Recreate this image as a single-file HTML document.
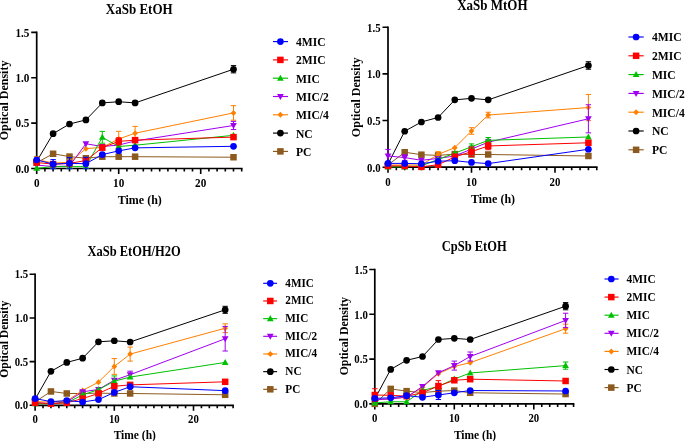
<!DOCTYPE html>
<html><head><meta charset="utf-8"><style>
html,body{margin:0;padding:0;background:#fff;}
svg{display:block;filter:blur(0.35px);}
</style></head><body>
<svg width="685" height="441" viewBox="0 0 685 441">
<rect width="685" height="441" fill="#fff"/>
<text transform="translate(139.20,13.50) scale(1,1.1)" font-family="Liberation Serif" font-weight="bold" font-size="13" text-anchor="middle">XaSb EtOH</text>
<path d="M36.70 32.41V168.50H241.70" stroke="#000" stroke-width="1.7" fill="none" stroke-linecap="square"/>
<path d="M31.20 168.50H36.70M31.20 123.13H36.70M31.20 77.77H36.70M31.20 32.41H36.70M44.90 168.50V171.50M53.10 168.50V171.50M61.30 168.50V171.50M69.50 168.50V171.50M77.70 168.50V171.50M85.90 168.50V171.50M94.10 168.50V171.50M102.30 168.50V171.50M110.50 168.50V171.50M118.70 168.50V174.00M126.90 168.50V171.50M135.10 168.50V171.50M143.30 168.50V171.50M151.50 168.50V171.50M159.70 168.50V171.50M167.90 168.50V171.50M176.10 168.50V171.50M184.30 168.50V171.50M192.50 168.50V171.50M200.70 168.50V174.00M208.90 168.50V171.50M217.10 168.50V171.50M225.30 168.50V171.50M233.50 168.50V171.50M241.70 168.50V171.50M36.70 168.50V174.00" stroke="#000" stroke-width="1.6" fill="none"/>
<text transform="translate(29.40,172.71) scale(1,1.1)" font-family="Liberation Serif" font-weight="bold" font-size="11.2" text-anchor="end">0.0</text>
<text transform="translate(29.40,127.34) scale(1,1.1)" font-family="Liberation Serif" font-weight="bold" font-size="11.2" text-anchor="end">0.5</text>
<text transform="translate(29.40,81.98) scale(1,1.1)" font-family="Liberation Serif" font-weight="bold" font-size="11.2" text-anchor="end">1.0</text>
<text transform="translate(29.40,36.61) scale(1,1.1)" font-family="Liberation Serif" font-weight="bold" font-size="11.2" text-anchor="end">1.5</text>
<text transform="translate(36.70,187.20) scale(1,1.1)" font-family="Liberation Serif" font-weight="bold" font-size="11.2" text-anchor="middle">0</text>
<text transform="translate(118.70,187.20) scale(1,1.1)" font-family="Liberation Serif" font-weight="bold" font-size="11.2" text-anchor="middle">10</text>
<text transform="translate(200.70,187.20) scale(1,1.1)" font-family="Liberation Serif" font-weight="bold" font-size="11.2" text-anchor="middle">20</text>
<polyline points="36.70,162.60 53.10,153.78 69.50,156.60 85.90,158.23 102.30,156.69 118.70,156.69 135.10,156.69 233.50,157.23" fill="none" stroke="#8c5a1e" stroke-width="1"/>
<rect x="33.45" y="159.35" width="6.50" height="6.50" fill="#8c5a1e"/>
<rect x="49.85" y="150.53" width="6.50" height="6.50" fill="#8c5a1e"/>
<rect x="66.25" y="153.35" width="6.50" height="6.50" fill="#8c5a1e"/>
<rect x="82.65" y="154.99" width="6.50" height="6.50" fill="#8c5a1e"/>
<rect x="99.05" y="153.44" width="6.50" height="6.50" fill="#8c5a1e"/>
<rect x="115.45" y="153.44" width="6.50" height="6.50" fill="#8c5a1e"/>
<rect x="131.85" y="153.44" width="6.50" height="6.50" fill="#8c5a1e"/>
<rect x="230.25" y="153.98" width="6.50" height="6.50" fill="#8c5a1e"/>
<polyline points="36.70,161.42 53.10,133.66 69.50,124.02 85.90,119.92 102.30,102.91 118.70,101.72 135.10,102.91 233.50,69.24" fill="none" stroke="#000000" stroke-width="1"/>
<path d="M233.50 65.60V72.88M230.80 65.60H236.20M230.80 72.88H236.20" stroke="#000000" stroke-width="1.0" fill="none"/>
<circle cx="36.70" cy="161.42" r="3.35" fill="#000000"/>
<circle cx="53.10" cy="133.66" r="3.35" fill="#000000"/>
<circle cx="69.50" cy="124.02" r="3.35" fill="#000000"/>
<circle cx="85.90" cy="119.92" r="3.35" fill="#000000"/>
<circle cx="102.30" cy="102.91" r="3.35" fill="#000000"/>
<circle cx="118.70" cy="101.72" r="3.35" fill="#000000"/>
<circle cx="135.10" cy="102.91" r="3.35" fill="#000000"/>
<circle cx="233.50" cy="69.24" r="3.35" fill="#000000"/>
<polyline points="36.70,159.60 53.10,163.06 69.50,162.33 85.90,148.68 102.30,147.31 118.70,139.03 135.10,133.21 233.50,112.92" fill="none" stroke="#ff8000" stroke-width="1"/>
<path d="M36.70 156.41V162.78M34.00 156.41H39.40M34.00 162.78H39.40" stroke="#ff8000" stroke-width="1.0" fill="none"/>
<path d="M118.70 131.30V146.77M116.00 131.30H121.40M116.00 146.77H121.40" stroke="#ff8000" stroke-width="1.0" fill="none"/>
<path d="M135.10 126.38V140.03M132.40 126.38H137.80M132.40 140.03H137.80" stroke="#ff8000" stroke-width="1.0" fill="none"/>
<path d="M233.50 105.64V120.20M230.80 105.64H236.20M230.80 120.20H236.20" stroke="#ff8000" stroke-width="1.0" fill="none"/>
<path d="M36.70 156.59L39.55 159.60L36.70 162.61L33.85 159.60Z" fill="#ff8000"/>
<path d="M53.10 160.04L55.95 163.06L53.10 166.07L50.25 163.06Z" fill="#ff8000"/>
<path d="M69.50 159.31L72.35 162.33L69.50 165.34L66.65 162.33Z" fill="#ff8000"/>
<path d="M85.90 145.66L88.75 148.68L85.90 151.69L83.05 148.68Z" fill="#ff8000"/>
<path d="M102.30 144.30L105.15 147.31L102.30 150.33L99.45 147.31Z" fill="#ff8000"/>
<path d="M118.70 136.02L121.55 139.03L118.70 142.05L115.85 139.03Z" fill="#ff8000"/>
<path d="M135.10 130.19L137.95 133.21L135.10 136.22L132.25 133.21Z" fill="#ff8000"/>
<path d="M233.50 109.90L236.35 112.92L233.50 115.93L230.65 112.92Z" fill="#ff8000"/>
<polyline points="36.70,165.06 53.10,166.61 69.50,165.97 85.90,143.77 102.30,146.50 118.70,145.04 135.10,140.94 233.50,125.47" fill="none" stroke="#a000f0" stroke-width="1"/>
<path d="M233.50 121.38V129.57M230.80 121.38H236.20M230.80 129.57H236.20" stroke="#a000f0" stroke-width="1.0" fill="none"/>
<path d="M36.70 168.58L40.05 162.55L33.35 162.55Z" fill="#a000f0"/>
<path d="M53.10 170.12L56.45 164.09L49.75 164.09Z" fill="#a000f0"/>
<path d="M69.50 169.49L72.85 163.46L66.15 163.46Z" fill="#a000f0"/>
<path d="M85.90 147.28L89.25 141.25L82.55 141.25Z" fill="#a000f0"/>
<path d="M102.30 150.01L105.65 143.98L98.95 143.98Z" fill="#a000f0"/>
<path d="M118.70 148.56L122.05 142.53L115.35 142.53Z" fill="#a000f0"/>
<path d="M135.10 144.46L138.45 138.43L131.75 138.43Z" fill="#a000f0"/>
<path d="M233.50 128.99L236.85 122.96L230.15 122.96Z" fill="#a000f0"/>
<polyline points="36.70,168.34 53.10,166.61 69.50,166.61 85.90,166.61 102.30,137.31 118.70,146.50 135.10,145.22 233.50,135.30" fill="none" stroke="#00c000" stroke-width="1"/>
<path d="M102.30 131.39V143.22M99.60 131.39H105.00M99.60 143.22H105.00" stroke="#00c000" stroke-width="1.0" fill="none"/>
<path d="M36.70 164.82L40.05 170.85L33.35 170.85Z" fill="#00c000"/>
<path d="M53.10 163.09L56.45 169.12L49.75 169.12Z" fill="#00c000"/>
<path d="M69.50 163.09L72.85 169.12L66.15 169.12Z" fill="#00c000"/>
<path d="M85.90 163.09L89.25 169.12L82.55 169.12Z" fill="#00c000"/>
<path d="M102.30 133.79L105.65 139.82L98.95 139.82Z" fill="#00c000"/>
<path d="M118.70 142.98L122.05 149.01L115.35 149.01Z" fill="#00c000"/>
<path d="M135.10 141.70L138.45 147.73L131.75 147.73Z" fill="#00c000"/>
<path d="M233.50 131.79L236.85 137.82L230.15 137.82Z" fill="#00c000"/>
<polyline points="36.70,162.51 53.10,164.15 69.50,163.42 85.90,160.51 102.30,147.68 118.70,141.40 135.10,140.13 233.50,137.12" fill="none" stroke="#ff0000" stroke-width="1"/>
<path d="M118.70 137.76V145.04M116.00 137.76H121.40M116.00 145.04H121.40" stroke="#ff0000" stroke-width="1.0" fill="none"/>
<rect x="33.45" y="159.26" width="6.50" height="6.50" fill="#ff0000"/>
<rect x="49.85" y="160.90" width="6.50" height="6.50" fill="#ff0000"/>
<rect x="66.25" y="160.17" width="6.50" height="6.50" fill="#ff0000"/>
<rect x="82.65" y="157.26" width="6.50" height="6.50" fill="#ff0000"/>
<rect x="99.05" y="144.43" width="6.50" height="6.50" fill="#ff0000"/>
<rect x="115.45" y="138.15" width="6.50" height="6.50" fill="#ff0000"/>
<rect x="131.85" y="136.88" width="6.50" height="6.50" fill="#ff0000"/>
<rect x="230.25" y="133.87" width="6.50" height="6.50" fill="#ff0000"/>
<polyline points="36.70,159.87 53.10,164.15 69.50,163.33 85.90,163.69 102.30,154.59 118.70,150.86 135.10,147.86 233.50,146.31" fill="none" stroke="#0000ff" stroke-width="1"/>
<path d="M53.10 159.60V168.70M50.40 159.60H55.80M50.40 168.70H55.80" stroke="#0000ff" stroke-width="1.0" fill="none"/>
<path d="M69.50 157.60V168.70M66.80 157.60H72.20M66.80 168.70H72.20" stroke="#0000ff" stroke-width="1.0" fill="none"/>
<path d="M85.90 157.32V168.70M83.20 157.32H88.60M83.20 168.70H88.60" stroke="#0000ff" stroke-width="1.0" fill="none"/>
<circle cx="36.70" cy="159.87" r="3.35" fill="#0000ff"/>
<circle cx="53.10" cy="164.15" r="3.35" fill="#0000ff"/>
<circle cx="69.50" cy="163.33" r="3.35" fill="#0000ff"/>
<circle cx="85.90" cy="163.69" r="3.35" fill="#0000ff"/>
<circle cx="102.30" cy="154.59" r="3.35" fill="#0000ff"/>
<circle cx="118.70" cy="150.86" r="3.35" fill="#0000ff"/>
<circle cx="135.10" cy="147.86" r="3.35" fill="#0000ff"/>
<circle cx="233.50" cy="146.31" r="3.35" fill="#0000ff"/>
<text transform="translate(139.75,203.80) scale(1,1.06)" font-family="Liberation Serif" font-weight="bold" font-size="12" text-anchor="middle">Time (h)</text>
<text transform="translate(8.30,100.40) rotate(-90)" x="0" y="0" font-family="Liberation Serif" font-weight="bold" font-size="12" text-anchor="middle">Optical Density</text>
<path d="M273.00 41.60H288.00" stroke="#0000ff" stroke-width="1.15"/>
<circle cx="280.40" cy="41.60" r="3.35" fill="#0000ff"/>
<text transform="translate(296.00,46.04) scale(1,1.06)" font-family="Liberation Serif" font-weight="bold" font-size="11.6">4MIC</text>
<path d="M273.00 59.90H288.00" stroke="#ff0000" stroke-width="1.15"/>
<rect x="277.15" y="56.65" width="6.50" height="6.50" fill="#ff0000"/>
<text transform="translate(296.00,64.34) scale(1,1.06)" font-family="Liberation Serif" font-weight="bold" font-size="11.6">2MIC</text>
<path d="M273.00 78.20H288.00" stroke="#00c000" stroke-width="1.15"/>
<path d="M280.40 74.68L283.75 80.71L277.05 80.71Z" fill="#00c000"/>
<text transform="translate(296.00,82.64) scale(1,1.06)" font-family="Liberation Serif" font-weight="bold" font-size="11.6">MIC</text>
<path d="M273.00 96.50H288.00" stroke="#a000f0" stroke-width="1.15"/>
<path d="M280.40 100.02L283.75 93.99L277.05 93.99Z" fill="#a000f0"/>
<text transform="translate(296.00,100.94) scale(1,1.06)" font-family="Liberation Serif" font-weight="bold" font-size="11.6">MIC/2</text>
<path d="M273.00 114.80H288.00" stroke="#ff8000" stroke-width="1.15"/>
<path d="M280.40 111.79L283.25 114.80L280.40 117.82L277.55 114.80Z" fill="#ff8000"/>
<text transform="translate(296.00,119.24) scale(1,1.06)" font-family="Liberation Serif" font-weight="bold" font-size="11.6">MIC/4</text>
<path d="M273.00 133.10H288.00" stroke="#000000" stroke-width="1.15"/>
<circle cx="280.40" cy="133.10" r="3.35" fill="#000000"/>
<text transform="translate(296.00,137.54) scale(1,1.06)" font-family="Liberation Serif" font-weight="bold" font-size="11.6">NC</text>
<path d="M273.00 151.40H288.00" stroke="#8c5a1e" stroke-width="1.15"/>
<rect x="277.15" y="148.15" width="6.50" height="6.50" fill="#8c5a1e"/>
<text transform="translate(296.00,155.84) scale(1,1.06)" font-family="Liberation Serif" font-weight="bold" font-size="11.6">PC</text>
<text transform="translate(492.38,9.50) scale(1,1.1)" font-family="Liberation Serif" font-weight="bold" font-size="13" text-anchor="middle">XaSb MtOH</text>
<path d="M388.00 27.25V167.20H596.75" stroke="#000" stroke-width="1.7" fill="none" stroke-linecap="square"/>
<path d="M382.50 167.20H388.00M382.50 120.55H388.00M382.50 73.90H388.00M382.50 27.25H388.00M396.35 167.20V170.20M404.70 167.20V170.20M413.05 167.20V170.20M421.40 167.20V170.20M429.75 167.20V170.20M438.10 167.20V170.20M446.45 167.20V170.20M454.80 167.20V170.20M463.15 167.20V170.20M471.50 167.20V172.70M479.85 167.20V170.20M488.20 167.20V170.20M496.55 167.20V170.20M504.90 167.20V170.20M513.25 167.20V170.20M521.60 167.20V170.20M529.95 167.20V170.20M538.30 167.20V170.20M546.65 167.20V170.20M555.00 167.20V172.70M563.35 167.20V170.20M571.70 167.20V170.20M580.05 167.20V170.20M588.40 167.20V170.20M596.75 167.20V170.20M388.00 167.20V172.70" stroke="#000" stroke-width="1.6" fill="none"/>
<text transform="translate(380.60,171.57) scale(1,1.1)" font-family="Liberation Serif" font-weight="bold" font-size="10.8" text-anchor="end">0.0</text>
<text transform="translate(380.60,124.92) scale(1,1.1)" font-family="Liberation Serif" font-weight="bold" font-size="10.8" text-anchor="end">0.5</text>
<text transform="translate(380.60,78.27) scale(1,1.1)" font-family="Liberation Serif" font-weight="bold" font-size="10.8" text-anchor="end">1.0</text>
<text transform="translate(380.60,31.62) scale(1,1.1)" font-family="Liberation Serif" font-weight="bold" font-size="10.8" text-anchor="end">1.5</text>
<text transform="translate(388.00,185.80) scale(1,1.1)" font-family="Liberation Serif" font-weight="bold" font-size="10.8" text-anchor="middle">0</text>
<text transform="translate(471.50,185.80) scale(1,1.1)" font-family="Liberation Serif" font-weight="bold" font-size="10.8" text-anchor="middle">10</text>
<text transform="translate(555.00,185.80) scale(1,1.1)" font-family="Liberation Serif" font-weight="bold" font-size="10.8" text-anchor="middle">20</text>
<polyline points="388.00,164.99 404.70,152.25 421.40,154.68 438.10,155.43 454.80,154.12 471.50,154.49 488.20,154.49 588.40,155.99" fill="none" stroke="#8c5a1e" stroke-width="1"/>
<rect x="384.75" y="161.74" width="6.50" height="6.50" fill="#8c5a1e"/>
<rect x="401.45" y="149.00" width="6.50" height="6.50" fill="#8c5a1e"/>
<rect x="418.15" y="151.43" width="6.50" height="6.50" fill="#8c5a1e"/>
<rect x="434.85" y="152.18" width="6.50" height="6.50" fill="#8c5a1e"/>
<rect x="451.55" y="150.87" width="6.50" height="6.50" fill="#8c5a1e"/>
<rect x="468.25" y="151.25" width="6.50" height="6.50" fill="#8c5a1e"/>
<rect x="484.95" y="151.25" width="6.50" height="6.50" fill="#8c5a1e"/>
<rect x="585.15" y="152.74" width="6.50" height="6.50" fill="#8c5a1e"/>
<polyline points="388.00,164.05 404.70,131.26 421.40,121.98 438.10,117.48 454.80,99.87 471.50,98.37 488.20,99.87 588.40,65.48" fill="none" stroke="#000000" stroke-width="1"/>
<path d="M588.40 61.73V69.23M585.70 61.73H591.10M585.70 69.23H591.10" stroke="#000000" stroke-width="1.0" fill="none"/>
<circle cx="388.00" cy="164.05" r="3.35" fill="#000000"/>
<circle cx="404.70" cy="131.26" r="3.35" fill="#000000"/>
<circle cx="421.40" cy="121.98" r="3.35" fill="#000000"/>
<circle cx="438.10" cy="117.48" r="3.35" fill="#000000"/>
<circle cx="454.80" cy="99.87" r="3.35" fill="#000000"/>
<circle cx="471.50" cy="98.37" r="3.35" fill="#000000"/>
<circle cx="488.20" cy="99.87" r="3.35" fill="#000000"/>
<circle cx="588.40" cy="65.48" r="3.35" fill="#000000"/>
<polyline points="388.00,164.99 404.70,164.99 421.40,164.99 438.10,154.49 454.80,147.65 471.50,130.98 488.20,115.05 588.40,107.55" fill="none" stroke="#ff8000" stroke-width="1"/>
<path d="M438.10 151.68V157.31M435.40 151.68H440.80M435.40 157.31H440.80" stroke="#ff8000" stroke-width="1.0" fill="none"/>
<path d="M471.50 127.70V134.26M468.80 127.70H474.20M468.80 134.26H474.20" stroke="#ff8000" stroke-width="1.0" fill="none"/>
<path d="M488.20 112.24V117.86M485.50 112.24H490.90M485.50 117.86H490.90" stroke="#ff8000" stroke-width="1.0" fill="none"/>
<path d="M588.40 94.43V120.67M585.70 94.43H591.10M585.70 120.67H591.10" stroke="#ff8000" stroke-width="1.0" fill="none"/>
<path d="M388.00 161.97L390.85 164.99L388.00 168.00L385.15 164.99Z" fill="#ff8000"/>
<path d="M404.70 161.97L407.55 164.99L404.70 168.00L401.85 164.99Z" fill="#ff8000"/>
<path d="M421.40 161.97L424.25 164.99L421.40 168.00L418.55 164.99Z" fill="#ff8000"/>
<path d="M438.10 151.48L440.95 154.49L438.10 157.51L435.25 154.49Z" fill="#ff8000"/>
<path d="M454.80 144.64L457.65 147.65L454.80 150.67L451.95 147.65Z" fill="#ff8000"/>
<path d="M471.50 127.96L474.35 130.98L471.50 133.99L468.65 130.98Z" fill="#ff8000"/>
<path d="M488.20 112.03L491.05 115.05L488.20 118.06L485.35 115.05Z" fill="#ff8000"/>
<path d="M588.40 104.54L591.25 107.55L588.40 110.57L585.55 107.55Z" fill="#ff8000"/>
<polyline points="388.00,155.99 404.70,157.59 421.40,160.30 438.10,158.43 454.80,155.99 471.50,149.06 488.20,142.22 588.40,118.79" fill="none" stroke="#a000f0" stroke-width="1"/>
<path d="M388.00 149.43V162.55M385.30 149.43H390.70M385.30 162.55H390.70" stroke="#a000f0" stroke-width="1.0" fill="none"/>
<path d="M404.70 154.78V160.40M402.00 154.78H407.40M402.00 160.40H407.40" stroke="#a000f0" stroke-width="1.0" fill="none"/>
<path d="M471.50 146.25V151.87M468.80 146.25H474.20M468.80 151.87H474.20" stroke="#a000f0" stroke-width="1.0" fill="none"/>
<path d="M488.20 139.41V145.03M485.50 139.41H490.90M485.50 145.03H490.90" stroke="#a000f0" stroke-width="1.0" fill="none"/>
<path d="M588.40 104.74V132.85M585.70 104.74H591.10M585.70 132.85H591.10" stroke="#a000f0" stroke-width="1.0" fill="none"/>
<path d="M388.00 159.51L391.35 153.48L384.65 153.48Z" fill="#a000f0"/>
<path d="M404.70 161.10L408.05 155.07L401.35 155.07Z" fill="#a000f0"/>
<path d="M421.40 163.82L424.75 157.79L418.05 157.79Z" fill="#a000f0"/>
<path d="M438.10 161.95L441.45 155.92L434.75 155.92Z" fill="#a000f0"/>
<path d="M454.80 159.51L458.15 153.48L451.45 153.48Z" fill="#a000f0"/>
<path d="M471.50 152.58L474.85 146.55L468.15 146.55Z" fill="#a000f0"/>
<path d="M488.20 145.74L491.55 139.71L484.85 139.71Z" fill="#a000f0"/>
<path d="M588.40 122.31L591.75 116.28L585.05 116.28Z" fill="#a000f0"/>
<polyline points="388.00,166.86 404.70,166.86 421.40,165.93 438.10,159.37 454.80,153.18 471.50,146.72 488.20,140.35 588.40,136.97" fill="none" stroke="#00c000" stroke-width="1"/>
<path d="M471.50 143.91V149.53M468.80 143.91H474.20M468.80 149.53H474.20" stroke="#00c000" stroke-width="1.0" fill="none"/>
<path d="M488.20 137.53V143.16M485.50 137.53H490.90M485.50 143.16H490.90" stroke="#00c000" stroke-width="1.0" fill="none"/>
<path d="M388.00 163.35L391.35 169.38L384.65 169.38Z" fill="#00c000"/>
<path d="M404.70 163.35L408.05 169.38L401.35 169.38Z" fill="#00c000"/>
<path d="M421.40 162.41L424.75 168.44L418.05 168.44Z" fill="#00c000"/>
<path d="M438.10 155.85L441.45 161.88L434.75 161.88Z" fill="#00c000"/>
<path d="M454.80 149.67L458.15 155.70L451.45 155.70Z" fill="#00c000"/>
<path d="M471.50 143.20L474.85 149.23L468.15 149.23Z" fill="#00c000"/>
<path d="M488.20 136.83L491.55 142.86L484.85 142.86Z" fill="#00c000"/>
<path d="M588.40 133.46L591.75 139.49L585.05 139.49Z" fill="#00c000"/>
<polyline points="388.00,165.93 404.70,165.93 421.40,166.86 438.10,164.71 454.80,156.93 471.50,151.68 488.20,145.97 588.40,142.78" fill="none" stroke="#ff0000" stroke-width="1"/>
<path d="M454.80 154.12V159.74M452.10 154.12H457.50M452.10 159.74H457.50" stroke="#ff0000" stroke-width="1.0" fill="none"/>
<path d="M471.50 147.00V156.37M468.80 147.00H474.20M468.80 156.37H474.20" stroke="#ff0000" stroke-width="1.0" fill="none"/>
<path d="M488.20 142.22V149.72M485.50 142.22H490.90M485.50 149.72H490.90" stroke="#ff0000" stroke-width="1.0" fill="none"/>
<rect x="384.75" y="162.68" width="6.50" height="6.50" fill="#ff0000"/>
<rect x="401.45" y="162.68" width="6.50" height="6.50" fill="#ff0000"/>
<rect x="418.15" y="163.61" width="6.50" height="6.50" fill="#ff0000"/>
<rect x="434.85" y="161.46" width="6.50" height="6.50" fill="#ff0000"/>
<rect x="451.55" y="153.68" width="6.50" height="6.50" fill="#ff0000"/>
<rect x="468.25" y="148.43" width="6.50" height="6.50" fill="#ff0000"/>
<rect x="484.95" y="142.72" width="6.50" height="6.50" fill="#ff0000"/>
<rect x="585.15" y="139.53" width="6.50" height="6.50" fill="#ff0000"/>
<polyline points="388.00,163.40 404.70,163.40 421.40,163.77 438.10,161.24 454.80,160.68 471.50,162.46 488.20,163.58 588.40,149.25" fill="none" stroke="#0000ff" stroke-width="1"/>
<circle cx="388.00" cy="163.40" r="3.35" fill="#0000ff"/>
<circle cx="404.70" cy="163.40" r="3.35" fill="#0000ff"/>
<circle cx="421.40" cy="163.77" r="3.35" fill="#0000ff"/>
<circle cx="438.10" cy="161.24" r="3.35" fill="#0000ff"/>
<circle cx="454.80" cy="160.68" r="3.35" fill="#0000ff"/>
<circle cx="471.50" cy="162.46" r="3.35" fill="#0000ff"/>
<circle cx="488.20" cy="163.58" r="3.35" fill="#0000ff"/>
<circle cx="588.40" cy="149.25" r="3.35" fill="#0000ff"/>
<text transform="translate(493.00,202.70) scale(1,1.06)" font-family="Liberation Serif" font-weight="bold" font-size="12" text-anchor="middle">Time (h)</text>
<text transform="translate(360.30,97.30) rotate(-90)" x="0" y="0" font-family="Liberation Serif" font-weight="bold" font-size="12" text-anchor="middle">Optical Density</text>
<path d="M628.40 37.00H643.70" stroke="#0000ff" stroke-width="1.15"/>
<circle cx="636.10" cy="37.00" r="3.35" fill="#0000ff"/>
<text transform="translate(651.90,41.44) scale(1,1.06)" font-family="Liberation Serif" font-weight="bold" font-size="11.6">4MIC</text>
<path d="M628.40 55.80H643.70" stroke="#ff0000" stroke-width="1.15"/>
<rect x="632.85" y="52.55" width="6.50" height="6.50" fill="#ff0000"/>
<text transform="translate(651.90,60.24) scale(1,1.06)" font-family="Liberation Serif" font-weight="bold" font-size="11.6">2MIC</text>
<path d="M628.40 74.60H643.70" stroke="#00c000" stroke-width="1.15"/>
<path d="M636.10 71.08L639.45 77.11L632.75 77.11Z" fill="#00c000"/>
<text transform="translate(651.90,79.04) scale(1,1.06)" font-family="Liberation Serif" font-weight="bold" font-size="11.6">MIC</text>
<path d="M628.40 93.40H643.70" stroke="#a000f0" stroke-width="1.15"/>
<path d="M636.10 96.92L639.45 90.89L632.75 90.89Z" fill="#a000f0"/>
<text transform="translate(651.90,97.84) scale(1,1.06)" font-family="Liberation Serif" font-weight="bold" font-size="11.6">MIC/2</text>
<path d="M628.40 112.20H643.70" stroke="#ff8000" stroke-width="1.15"/>
<path d="M636.10 109.19L638.95 112.20L636.10 115.22L633.25 112.20Z" fill="#ff8000"/>
<text transform="translate(651.90,116.64) scale(1,1.06)" font-family="Liberation Serif" font-weight="bold" font-size="11.6">MIC/4</text>
<path d="M628.40 131.00H643.70" stroke="#000000" stroke-width="1.15"/>
<circle cx="636.10" cy="131.00" r="3.35" fill="#000000"/>
<text transform="translate(651.90,135.44) scale(1,1.06)" font-family="Liberation Serif" font-weight="bold" font-size="11.6">NC</text>
<path d="M628.40 149.80H643.70" stroke="#8c5a1e" stroke-width="1.15"/>
<rect x="632.85" y="146.55" width="6.50" height="6.50" fill="#8c5a1e"/>
<text transform="translate(651.90,154.24) scale(1,1.06)" font-family="Liberation Serif" font-weight="bold" font-size="11.6">PC</text>
<text transform="translate(134.10,256.20) scale(1,1.1)" font-family="Liberation Serif" font-weight="bold" font-size="12.5" text-anchor="middle">XaSb EtOH/H2O</text>
<path d="M35.10 274.31V405.30H233.10" stroke="#000" stroke-width="1.7" fill="none" stroke-linecap="square"/>
<path d="M29.60 405.30H35.10M29.60 361.63H35.10M29.60 317.97H35.10M29.60 274.31H35.10M43.02 405.30V408.30M50.94 405.30V408.30M58.86 405.30V408.30M66.78 405.30V408.30M74.70 405.30V408.30M82.62 405.30V408.30M90.54 405.30V408.30M98.46 405.30V408.30M106.38 405.30V408.30M114.30 405.30V410.80M122.22 405.30V408.30M130.14 405.30V408.30M138.06 405.30V408.30M145.98 405.30V408.30M153.90 405.30V408.30M161.82 405.30V408.30M169.74 405.30V408.30M177.66 405.30V408.30M185.58 405.30V408.30M193.50 405.30V410.80M201.42 405.30V408.30M209.34 405.30V408.30M217.26 405.30V408.30M225.18 405.30V408.30M233.10 405.30V408.30M35.10 405.30V410.80" stroke="#000" stroke-width="1.6" fill="none"/>
<text transform="translate(28.20,409.47) scale(1,1.1)" font-family="Liberation Serif" font-weight="bold" font-size="10.8" text-anchor="end">0.0</text>
<text transform="translate(28.20,365.81) scale(1,1.1)" font-family="Liberation Serif" font-weight="bold" font-size="10.8" text-anchor="end">0.5</text>
<text transform="translate(28.20,322.14) scale(1,1.1)" font-family="Liberation Serif" font-weight="bold" font-size="10.8" text-anchor="end">1.0</text>
<text transform="translate(28.20,278.48) scale(1,1.1)" font-family="Liberation Serif" font-weight="bold" font-size="10.8" text-anchor="end">1.5</text>
<text transform="translate(35.10,423.00) scale(1,1.1)" font-family="Liberation Serif" font-weight="bold" font-size="10.8" text-anchor="middle">0</text>
<text transform="translate(114.30,423.00) scale(1,1.1)" font-family="Liberation Serif" font-weight="bold" font-size="10.8" text-anchor="middle">10</text>
<text transform="translate(193.50,423.00) scale(1,1.1)" font-family="Liberation Serif" font-weight="bold" font-size="10.8" text-anchor="middle">20</text>
<polyline points="35.10,401.89 50.94,391.46 66.78,393.47 82.62,393.56 98.46,393.12 114.30,393.47 130.14,393.47 225.18,394.79" fill="none" stroke="#8c5a1e" stroke-width="1"/>
<rect x="31.85" y="398.64" width="6.50" height="6.50" fill="#8c5a1e"/>
<rect x="47.69" y="388.21" width="6.50" height="6.50" fill="#8c5a1e"/>
<rect x="63.53" y="390.22" width="6.50" height="6.50" fill="#8c5a1e"/>
<rect x="79.37" y="390.31" width="6.50" height="6.50" fill="#8c5a1e"/>
<rect x="95.21" y="389.87" width="6.50" height="6.50" fill="#8c5a1e"/>
<rect x="111.05" y="390.22" width="6.50" height="6.50" fill="#8c5a1e"/>
<rect x="126.89" y="390.22" width="6.50" height="6.50" fill="#8c5a1e"/>
<rect x="221.93" y="391.54" width="6.50" height="6.50" fill="#8c5a1e"/>
<polyline points="35.10,399.26 50.94,371.37 66.78,362.43 82.62,358.22 98.46,341.82 114.30,340.77 130.14,341.99 225.18,309.81" fill="none" stroke="#000000" stroke-width="1"/>
<path d="M225.18 306.30V313.31M222.48 306.30H227.88M222.48 313.31H227.88" stroke="#000000" stroke-width="1.0" fill="none"/>
<circle cx="35.10" cy="399.26" r="3.35" fill="#000000"/>
<circle cx="50.94" cy="371.37" r="3.35" fill="#000000"/>
<circle cx="66.78" cy="362.43" r="3.35" fill="#000000"/>
<circle cx="82.62" cy="358.22" r="3.35" fill="#000000"/>
<circle cx="98.46" cy="341.82" r="3.35" fill="#000000"/>
<circle cx="114.30" cy="340.77" r="3.35" fill="#000000"/>
<circle cx="130.14" cy="341.99" r="3.35" fill="#000000"/>
<circle cx="225.18" cy="309.81" r="3.35" fill="#000000"/>
<polyline points="35.10,401.89 50.94,401.89 66.78,401.01 82.62,390.40 98.46,382.16 114.30,366.46 130.14,354.10 225.18,328.22" fill="none" stroke="#ff8000" stroke-width="1"/>
<path d="M114.30 358.57V374.35M111.60 358.57H117.00M111.60 374.35H117.00" stroke="#ff8000" stroke-width="1.0" fill="none"/>
<path d="M130.14 347.08V361.11M127.44 347.08H132.84M127.44 361.11H132.84" stroke="#ff8000" stroke-width="1.0" fill="none"/>
<path d="M225.18 323.84V332.61M222.48 323.84H227.88M222.48 332.61H227.88" stroke="#ff8000" stroke-width="1.0" fill="none"/>
<path d="M35.10 398.88L37.95 401.89L35.10 404.91L32.25 401.89Z" fill="#ff8000"/>
<path d="M50.94 398.88L53.79 401.89L50.94 404.91L48.09 401.89Z" fill="#ff8000"/>
<path d="M66.78 398.00L69.63 401.01L66.78 404.03L63.93 401.01Z" fill="#ff8000"/>
<path d="M82.62 387.39L85.47 390.40L82.62 393.42L79.77 390.40Z" fill="#ff8000"/>
<path d="M98.46 379.14L101.31 382.16L98.46 385.17L95.61 382.16Z" fill="#ff8000"/>
<path d="M114.30 363.45L117.15 366.46L114.30 369.48L111.45 366.46Z" fill="#ff8000"/>
<path d="M130.14 351.08L132.99 354.10L130.14 357.11L127.29 354.10Z" fill="#ff8000"/>
<path d="M225.18 325.21L228.03 328.22L225.18 331.24L222.33 328.22Z" fill="#ff8000"/>
<polyline points="35.10,402.77 50.94,403.65 66.78,401.89 82.62,391.81 98.46,389.44 114.30,380.23 130.14,374.70 225.18,338.75" fill="none" stroke="#a000f0" stroke-width="1"/>
<path d="M130.14 371.20V378.21M127.44 371.20H132.84M127.44 378.21H132.84" stroke="#a000f0" stroke-width="1.0" fill="none"/>
<path d="M225.18 326.47V351.03M222.48 326.47H227.88M222.48 351.03H227.88" stroke="#a000f0" stroke-width="1.0" fill="none"/>
<path d="M35.10 406.29L38.45 400.26L31.75 400.26Z" fill="#a000f0"/>
<path d="M50.94 407.16L54.29 401.13L47.59 401.13Z" fill="#a000f0"/>
<path d="M66.78 405.41L70.13 399.38L63.43 399.38Z" fill="#a000f0"/>
<path d="M82.62 395.32L85.97 389.29L79.27 389.29Z" fill="#a000f0"/>
<path d="M98.46 392.96L101.81 386.93L95.11 386.93Z" fill="#a000f0"/>
<path d="M114.30 383.75L117.65 377.72L110.95 377.72Z" fill="#a000f0"/>
<path d="M130.14 378.22L133.49 372.19L126.79 372.19Z" fill="#a000f0"/>
<path d="M225.18 342.27L228.53 336.24L221.83 336.24Z" fill="#a000f0"/>
<polyline points="35.10,403.65 50.94,403.65 66.78,402.77 82.62,394.88 98.46,389.61 114.30,381.19 130.14,377.07 225.18,362.43" fill="none" stroke="#00c000" stroke-width="1"/>
<path d="M114.30 375.93V386.46M111.60 375.93H117.00M111.60 386.46H117.00" stroke="#00c000" stroke-width="1.0" fill="none"/>
<path d="M35.10 400.13L38.45 406.16L31.75 406.16Z" fill="#00c000"/>
<path d="M50.94 400.13L54.29 406.16L47.59 406.16Z" fill="#00c000"/>
<path d="M66.78 399.25L70.13 405.28L63.43 405.28Z" fill="#00c000"/>
<path d="M82.62 391.36L85.97 397.39L79.27 397.39Z" fill="#00c000"/>
<path d="M98.46 386.10L101.81 392.13L95.11 392.13Z" fill="#00c000"/>
<path d="M114.30 377.68L117.65 383.71L110.95 383.71Z" fill="#00c000"/>
<path d="M130.14 373.56L133.49 379.59L126.79 379.59Z" fill="#00c000"/>
<path d="M225.18 358.91L228.53 364.94L221.83 364.94Z" fill="#00c000"/>
<polyline points="35.10,402.77 50.94,403.65 66.78,402.77 82.62,398.56 98.46,393.47 114.30,386.28 130.14,384.88 225.18,381.81" fill="none" stroke="#ff0000" stroke-width="1"/>
<rect x="31.85" y="399.52" width="6.50" height="6.50" fill="#ff0000"/>
<rect x="47.69" y="400.40" width="6.50" height="6.50" fill="#ff0000"/>
<rect x="63.53" y="399.52" width="6.50" height="6.50" fill="#ff0000"/>
<rect x="79.37" y="395.31" width="6.50" height="6.50" fill="#ff0000"/>
<rect x="95.21" y="390.22" width="6.50" height="6.50" fill="#ff0000"/>
<rect x="111.05" y="383.03" width="6.50" height="6.50" fill="#ff0000"/>
<rect x="126.89" y="381.63" width="6.50" height="6.50" fill="#ff0000"/>
<rect x="221.93" y="378.56" width="6.50" height="6.50" fill="#ff0000"/>
<polyline points="35.10,398.56 50.94,401.63 66.78,400.58 82.62,401.98 98.46,399.61 114.30,392.42 130.14,386.72 225.18,390.67" fill="none" stroke="#0000ff" stroke-width="1"/>
<circle cx="35.10" cy="398.56" r="3.35" fill="#0000ff"/>
<circle cx="50.94" cy="401.63" r="3.35" fill="#0000ff"/>
<circle cx="66.78" cy="400.58" r="3.35" fill="#0000ff"/>
<circle cx="82.62" cy="401.98" r="3.35" fill="#0000ff"/>
<circle cx="98.46" cy="399.61" r="3.35" fill="#0000ff"/>
<circle cx="114.30" cy="392.42" r="3.35" fill="#0000ff"/>
<circle cx="130.14" cy="386.72" r="3.35" fill="#0000ff"/>
<circle cx="225.18" cy="390.67" r="3.35" fill="#0000ff"/>
<text transform="translate(134.75,438.70) scale(1,1.06)" font-family="Liberation Serif" font-weight="bold" font-size="11.5" text-anchor="middle">Time (h)</text>
<text transform="translate(7.60,339.30) rotate(-90)" x="0" y="0" font-family="Liberation Serif" font-weight="bold" font-size="11.6" text-anchor="middle">Optical Density</text>
<path d="M263.20 283.30H277.10" stroke="#0000ff" stroke-width="1.15"/>
<circle cx="270.30" cy="283.30" r="3.35" fill="#0000ff"/>
<text transform="translate(285.30,286.71) scale(1,1.06)" font-family="Liberation Serif" font-weight="bold" font-size="11.2">4MIC</text>
<path d="M263.20 300.97H277.10" stroke="#ff0000" stroke-width="1.15"/>
<rect x="267.05" y="297.72" width="6.50" height="6.50" fill="#ff0000"/>
<text transform="translate(285.30,304.38) scale(1,1.06)" font-family="Liberation Serif" font-weight="bold" font-size="11.2">2MIC</text>
<path d="M263.20 318.64H277.10" stroke="#00c000" stroke-width="1.15"/>
<path d="M270.30 315.12L273.65 321.15L266.95 321.15Z" fill="#00c000"/>
<text transform="translate(285.30,322.05) scale(1,1.06)" font-family="Liberation Serif" font-weight="bold" font-size="11.2">MIC</text>
<path d="M263.20 336.31H277.10" stroke="#a000f0" stroke-width="1.15"/>
<path d="M270.30 339.83L273.65 333.80L266.95 333.80Z" fill="#a000f0"/>
<text transform="translate(285.30,339.72) scale(1,1.06)" font-family="Liberation Serif" font-weight="bold" font-size="11.2">MIC/2</text>
<path d="M263.20 353.98H277.10" stroke="#ff8000" stroke-width="1.15"/>
<path d="M270.30 350.97L273.15 353.98L270.30 357.00L267.45 353.98Z" fill="#ff8000"/>
<text transform="translate(285.30,357.39) scale(1,1.06)" font-family="Liberation Serif" font-weight="bold" font-size="11.2">MIC/4</text>
<path d="M263.20 371.65H277.10" stroke="#000000" stroke-width="1.15"/>
<circle cx="270.30" cy="371.65" r="3.35" fill="#000000"/>
<text transform="translate(285.30,375.06) scale(1,1.06)" font-family="Liberation Serif" font-weight="bold" font-size="11.2">NC</text>
<path d="M263.20 389.32H277.10" stroke="#8c5a1e" stroke-width="1.15"/>
<rect x="267.05" y="386.07" width="6.50" height="6.50" fill="#8c5a1e"/>
<text transform="translate(285.30,392.73) scale(1,1.06)" font-family="Liberation Serif" font-weight="bold" font-size="11.2">PC</text>
<text transform="translate(474.17,250.80) scale(1,1.1)" font-family="Liberation Serif" font-weight="bold" font-size="12.5" text-anchor="middle">CpSb EtOH</text>
<path d="M374.80 269.50V403.90H573.55" stroke="#000" stroke-width="1.7" fill="none" stroke-linecap="square"/>
<path d="M369.30 403.90H374.80M369.30 359.10H374.80M369.30 314.30H374.80M369.30 269.50H374.80M382.75 403.90V406.90M390.70 403.90V406.90M398.65 403.90V406.90M406.60 403.90V406.90M414.55 403.90V406.90M422.50 403.90V406.90M430.45 403.90V406.90M438.40 403.90V406.90M446.35 403.90V406.90M454.30 403.90V409.40M462.25 403.90V406.90M470.20 403.90V406.90M478.15 403.90V406.90M486.10 403.90V406.90M494.05 403.90V406.90M502.00 403.90V406.90M509.95 403.90V406.90M517.90 403.90V406.90M525.85 403.90V406.90M533.80 403.90V409.40M541.75 403.90V406.90M549.70 403.90V406.90M557.65 403.90V406.90M565.60 403.90V406.90M573.55 403.90V406.90M374.80 403.90V409.40" stroke="#000" stroke-width="1.6" fill="none"/>
<text transform="translate(367.80,408.17) scale(1,1.1)" font-family="Liberation Serif" font-weight="bold" font-size="10.8" text-anchor="end">0.0</text>
<text transform="translate(367.80,363.37) scale(1,1.1)" font-family="Liberation Serif" font-weight="bold" font-size="10.8" text-anchor="end">0.5</text>
<text transform="translate(367.80,318.57) scale(1,1.1)" font-family="Liberation Serif" font-weight="bold" font-size="10.8" text-anchor="end">1.0</text>
<text transform="translate(367.80,273.77) scale(1,1.1)" font-family="Liberation Serif" font-weight="bold" font-size="10.8" text-anchor="end">1.5</text>
<text transform="translate(374.80,422.30) scale(1,1.1)" font-family="Liberation Serif" font-weight="bold" font-size="10.8" text-anchor="middle">0</text>
<text transform="translate(454.30,422.30) scale(1,1.1)" font-family="Liberation Serif" font-weight="bold" font-size="10.8" text-anchor="middle">10</text>
<text transform="translate(533.80,422.30) scale(1,1.1)" font-family="Liberation Serif" font-weight="bold" font-size="10.8" text-anchor="middle">20</text>
<polyline points="374.80,403.85 390.70,388.91 406.60,391.16 422.50,392.60 438.40,391.16 454.30,390.53 470.20,392.78 565.60,394.04" fill="none" stroke="#8c5a1e" stroke-width="1"/>
<rect x="371.55" y="400.60" width="6.50" height="6.50" fill="#8c5a1e"/>
<rect x="387.45" y="385.66" width="6.50" height="6.50" fill="#8c5a1e"/>
<rect x="403.35" y="387.91" width="6.50" height="6.50" fill="#8c5a1e"/>
<rect x="419.25" y="389.35" width="6.50" height="6.50" fill="#8c5a1e"/>
<rect x="435.15" y="387.91" width="6.50" height="6.50" fill="#8c5a1e"/>
<rect x="451.05" y="387.28" width="6.50" height="6.50" fill="#8c5a1e"/>
<rect x="466.95" y="389.53" width="6.50" height="6.50" fill="#8c5a1e"/>
<rect x="562.35" y="390.79" width="6.50" height="6.50" fill="#8c5a1e"/>
<polyline points="374.80,398.90 390.70,369.38 406.60,360.29 422.50,356.51 438.40,339.50 454.30,338.33 470.20,339.50 565.60,306.20" fill="none" stroke="#000000" stroke-width="1"/>
<path d="M565.60 302.60V309.80M562.90 302.60H568.30M562.90 309.80H568.30" stroke="#000000" stroke-width="1.0" fill="none"/>
<circle cx="374.80" cy="398.90" r="3.35" fill="#000000"/>
<circle cx="390.70" cy="369.38" r="3.35" fill="#000000"/>
<circle cx="406.60" cy="360.29" r="3.35" fill="#000000"/>
<circle cx="422.50" cy="356.51" r="3.35" fill="#000000"/>
<circle cx="438.40" cy="339.50" r="3.35" fill="#000000"/>
<circle cx="454.30" cy="338.33" r="3.35" fill="#000000"/>
<circle cx="470.20" cy="339.50" r="3.35" fill="#000000"/>
<circle cx="565.60" cy="306.20" r="3.35" fill="#000000"/>
<polyline points="374.80,399.80 390.70,398.90 406.60,397.10 422.50,387.20 438.40,373.70 454.30,366.50 470.20,362.63 565.60,328.70" fill="none" stroke="#ff8000" stroke-width="1"/>
<path d="M565.60 324.20V333.20M562.90 324.20H568.30M562.90 333.20H568.30" stroke="#ff8000" stroke-width="1.0" fill="none"/>
<path d="M374.80 396.79L377.65 399.80L374.80 402.81L371.95 399.80Z" fill="#ff8000"/>
<path d="M390.70 395.89L393.55 398.90L390.70 401.92L387.85 398.90Z" fill="#ff8000"/>
<path d="M406.60 394.09L409.45 397.10L406.60 400.12L403.75 397.10Z" fill="#ff8000"/>
<path d="M422.50 384.19L425.35 387.20L422.50 390.21L419.65 387.20Z" fill="#ff8000"/>
<path d="M438.40 370.69L441.25 373.70L438.40 376.71L435.55 373.70Z" fill="#ff8000"/>
<path d="M454.30 363.49L457.15 366.50L454.30 369.51L451.45 366.50Z" fill="#ff8000"/>
<path d="M470.20 359.62L473.05 362.63L470.20 365.64L467.35 362.63Z" fill="#ff8000"/>
<path d="M565.60 325.69L568.45 328.70L565.60 331.72L562.75 328.70Z" fill="#ff8000"/>
<polyline points="374.80,399.80 390.70,398.90 406.60,397.10 422.50,386.57 438.40,372.80 454.30,365.60 470.20,356.51 565.60,320.42" fill="none" stroke="#a000f0" stroke-width="1"/>
<path d="M454.30 361.10V370.10M451.60 361.10H457.00M451.60 370.10H457.00" stroke="#a000f0" stroke-width="1.0" fill="none"/>
<path d="M470.20 352.01V361.01M467.50 352.01H472.90M467.50 361.01H472.90" stroke="#a000f0" stroke-width="1.0" fill="none"/>
<path d="M565.60 313.22V327.62M562.90 313.22H568.30M562.90 327.62H568.30" stroke="#a000f0" stroke-width="1.0" fill="none"/>
<path d="M374.80 403.32L378.15 397.29L371.45 397.29Z" fill="#a000f0"/>
<path d="M390.70 402.42L394.05 396.39L387.35 396.39Z" fill="#a000f0"/>
<path d="M406.60 400.62L409.95 394.59L403.25 394.59Z" fill="#a000f0"/>
<path d="M422.50 390.09L425.85 384.06L419.15 384.06Z" fill="#a000f0"/>
<path d="M438.40 376.32L441.75 370.29L435.05 370.29Z" fill="#a000f0"/>
<path d="M454.30 369.12L457.65 363.09L450.95 363.09Z" fill="#a000f0"/>
<path d="M470.20 360.03L473.55 354.00L466.85 354.00Z" fill="#a000f0"/>
<path d="M565.60 323.94L568.95 317.91L562.25 317.91Z" fill="#a000f0"/>
<polyline points="374.80,402.95 390.70,401.78 406.60,401.78 422.50,390.53 438.40,386.30 454.30,379.10 470.20,372.98 565.60,365.60" fill="none" stroke="#00c000" stroke-width="1"/>
<path d="M565.60 362.00V369.20M562.90 362.00H568.30M562.90 369.20H568.30" stroke="#00c000" stroke-width="1.0" fill="none"/>
<path d="M374.80 399.43L378.15 405.46L371.45 405.46Z" fill="#00c000"/>
<path d="M390.70 398.26L394.05 404.29L387.35 404.29Z" fill="#00c000"/>
<path d="M406.60 398.26L409.95 404.29L403.25 404.29Z" fill="#00c000"/>
<path d="M422.50 387.01L425.85 393.04L419.15 393.04Z" fill="#00c000"/>
<path d="M438.40 382.78L441.75 388.81L435.05 388.81Z" fill="#00c000"/>
<path d="M454.30 375.58L457.65 381.61L450.95 381.61Z" fill="#00c000"/>
<path d="M470.20 369.46L473.55 375.49L466.85 375.49Z" fill="#00c000"/>
<path d="M565.60 362.08L568.95 368.11L562.25 368.11Z" fill="#00c000"/>
<polyline points="374.80,395.03 390.70,395.30 406.60,396.20 422.50,392.78 438.40,386.03 454.30,380.27 470.20,379.19 565.60,380.99" fill="none" stroke="#ff0000" stroke-width="1"/>
<path d="M374.80 388.73V401.33M372.10 388.73H377.50M372.10 401.33H377.50" stroke="#ff0000" stroke-width="1.0" fill="none"/>
<path d="M438.40 380.63V391.43M435.70 380.63H441.10M435.70 391.43H441.10" stroke="#ff0000" stroke-width="1.0" fill="none"/>
<rect x="371.55" y="391.78" width="6.50" height="6.50" fill="#ff0000"/>
<rect x="387.45" y="392.05" width="6.50" height="6.50" fill="#ff0000"/>
<rect x="403.35" y="392.95" width="6.50" height="6.50" fill="#ff0000"/>
<rect x="419.25" y="389.53" width="6.50" height="6.50" fill="#ff0000"/>
<rect x="435.15" y="382.78" width="6.50" height="6.50" fill="#ff0000"/>
<rect x="451.05" y="377.02" width="6.50" height="6.50" fill="#ff0000"/>
<rect x="466.95" y="375.94" width="6.50" height="6.50" fill="#ff0000"/>
<rect x="562.35" y="377.74" width="6.50" height="6.50" fill="#ff0000"/>
<polyline points="374.80,398.36 390.70,397.82 406.60,395.66 422.50,397.28 438.40,395.03 454.30,392.78 470.20,390.53 565.60,390.98" fill="none" stroke="#0000ff" stroke-width="1"/>
<path d="M438.40 390.53V399.53M435.70 390.53H441.10M435.70 399.53H441.10" stroke="#0000ff" stroke-width="1.0" fill="none"/>
<circle cx="374.80" cy="398.36" r="3.35" fill="#0000ff"/>
<circle cx="390.70" cy="397.82" r="3.35" fill="#0000ff"/>
<circle cx="406.60" cy="395.66" r="3.35" fill="#0000ff"/>
<circle cx="422.50" cy="397.28" r="3.35" fill="#0000ff"/>
<circle cx="438.40" cy="395.03" r="3.35" fill="#0000ff"/>
<circle cx="454.30" cy="392.78" r="3.35" fill="#0000ff"/>
<circle cx="470.20" cy="390.53" r="3.35" fill="#0000ff"/>
<circle cx="565.60" cy="390.98" r="3.35" fill="#0000ff"/>
<text transform="translate(475.00,438.70) scale(1,1.06)" font-family="Liberation Serif" font-weight="bold" font-size="11.5" text-anchor="middle">Time (h)</text>
<text transform="translate(347.60,336.20) rotate(-90)" x="0" y="0" font-family="Liberation Serif" font-weight="bold" font-size="11.8" text-anchor="middle">Optical Density</text>
<path d="M604.50 279.00H618.60" stroke="#0000ff" stroke-width="1.15"/>
<circle cx="611.30" cy="279.00" r="3.35" fill="#0000ff"/>
<text transform="translate(626.60,283.08) scale(1,1.06)" font-family="Liberation Serif" font-weight="bold" font-size="11.4">4MIC</text>
<path d="M604.50 297.10H618.60" stroke="#ff0000" stroke-width="1.15"/>
<rect x="608.05" y="293.85" width="6.50" height="6.50" fill="#ff0000"/>
<text transform="translate(626.60,301.18) scale(1,1.06)" font-family="Liberation Serif" font-weight="bold" font-size="11.4">2MIC</text>
<path d="M604.50 315.20H618.60" stroke="#00c000" stroke-width="1.15"/>
<path d="M611.30 311.68L614.65 317.71L607.95 317.71Z" fill="#00c000"/>
<text transform="translate(626.60,319.28) scale(1,1.06)" font-family="Liberation Serif" font-weight="bold" font-size="11.4">MIC</text>
<path d="M604.50 333.30H618.60" stroke="#a000f0" stroke-width="1.15"/>
<path d="M611.30 336.82L614.65 330.79L607.95 330.79Z" fill="#a000f0"/>
<text transform="translate(626.60,337.38) scale(1,1.06)" font-family="Liberation Serif" font-weight="bold" font-size="11.4">MIC/2</text>
<path d="M604.50 351.40H618.60" stroke="#ff8000" stroke-width="1.15"/>
<path d="M611.30 348.38L614.15 351.40L611.30 354.41L608.45 351.40Z" fill="#ff8000"/>
<text transform="translate(626.60,355.48) scale(1,1.06)" font-family="Liberation Serif" font-weight="bold" font-size="11.4">MIC/4</text>
<path d="M604.50 369.50H618.60" stroke="#000000" stroke-width="1.15"/>
<circle cx="611.30" cy="369.50" r="3.35" fill="#000000"/>
<text transform="translate(626.60,373.58) scale(1,1.06)" font-family="Liberation Serif" font-weight="bold" font-size="11.4">NC</text>
<path d="M604.50 387.60H618.60" stroke="#8c5a1e" stroke-width="1.15"/>
<rect x="608.05" y="384.35" width="6.50" height="6.50" fill="#8c5a1e"/>
<text transform="translate(626.60,391.68) scale(1,1.06)" font-family="Liberation Serif" font-weight="bold" font-size="11.4">PC</text>
</svg>
</body></html>
